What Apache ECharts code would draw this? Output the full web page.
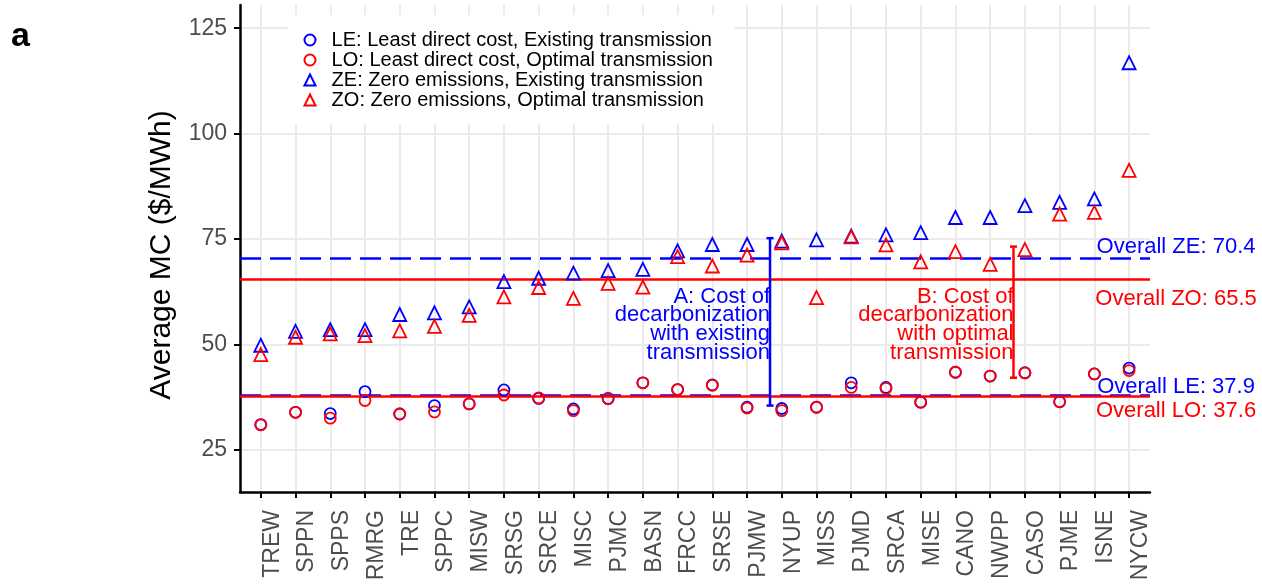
<!DOCTYPE html>
<html>
<head>
<meta charset="utf-8">
<script src="https://cdn.jsdelivr.net/npm/echarts@6/dist/echarts.min.js"></script>
<style>
html, body { margin: 0; padding: 0; background: #fff; }
#chart { width: 1262px; height: 588px; }
</style>
</head>
<body>
<div id="chart"></div>
<script>
// regions, left to right
const regions = ['TREW', 'SPPN', 'SPPS', 'RMRG', 'TRE', 'SPPC', 'MISW', 'SRSG', 'SRCE', 'MISC', 'PJMC', 'BASN', 'FRCC',
  'SRSE', 'PJMW', 'NYUP', 'MISS', 'PJMD', 'SRCA', 'MISE', 'CANO', 'NWPP', 'CASO', 'PJME', 'ISNE', 'NYCW']

// average marginal cost ($/MWh) per scenario
const leValues = [31.0, 33.9, 33.6, 38.8, 33.5, 35.5, 35.9, 39.2, 37.2, 34.7, 37.2, 40.9, 39.3,
  40.4, 35.1, 34.8, 35.1, 40.9, 39.8, 36.3, 43.4, 42.5, 43.3, 36.4, 43.0, 44.4]
const loValues = [30.9, 33.9, 32.5, 36.7, 33.5, 34.0, 35.9, 38.0, 37.3, 34.3, 37.1, 40.9, 39.3,
  40.3, 34.9, 34.3, 35.1, 39.8, 39.6, 36.3, 43.4, 42.5, 43.2, 36.4, 43.0, 43.8]
const zeValues = [49.8, 53.1, 53.5, 53.5, 57.1, 57.5, 58.9, 64.9, 65.7, 66.9, 67.5, 67.8, 72.2,
  73.7, 73.7, 74.5, 74.8, 75.7, 76.0, 76.5, 80.1, 80.1, 82.9, 83.7, 84.5, 116.8]
const zoValues = [47.6, 51.7, 52.5, 52.1, 53.2, 54.3, 56.9, 61.3, 63.5, 60.9, 64.5, 63.6, 70.8,
  68.6, 71.2, 74.1, 61.1, 75.5, 73.6, 69.6, 72.0, 69.0, 72.5, 80.9, 81.3, 91.3]

const seriesNames = [
  'LE: Least direct cost, Existing transmission',
  'LO: Least direct cost, Optimal transmission',
  'ZE: Zero emissions, Existing transmission',
  'ZO: Zero emissions, Optimal transmission'
]

// overall averages and their labels
const overallNames = ['Overall ZE: 70.4', 'Overall ZO: 65.5', 'Overall LE: 37.9', 'Overall LO: 37.6']
const overallValues = [70.4, 65.5, 37.9, 37.6]
const overallLabelY = [73.2, 60.9, 40.0, 34.2]
const overallLabelX = 26.35

// cost of decarbonization bars
const costNames = ['A: Cost of\ndecarbonization\nwith existing\ntransmission',
  'B: Cost of\ndecarbonization\nwith optimal\ntransmission']
const costX = [14.66, 21.67]
const costLow = [35.5, 42.1]
const costHigh = [75.2, 73.2]
const costLabelY = 54.7

const BLUE = '#0000ff'
const RED = '#ff0000'
const FONT = 'Liberation Sans, Arial, sans-serif'

const myChart = echarts.init(document.getElementById('chart'))

const pointSeries = (name, values, symbol, size, color) => ({
  name: name,
  type: 'scatter',
  xAxisIndex: 1,
  yAxisIndex: 1,
  symbol: symbol,
  symbolSize: size,
  itemStyle: { color: 'rgba(0,0,0,0)', borderColor: color, borderWidth: 1.8, opacity: 1 },
  z: 5,
  data: values
})

myChart.setOption({
  animation: false,
  textStyle: { fontFamily: FONT },
  title: {
    text: 'a',
    left: 6,
    top: 15,
    textStyle: { fontSize: 34, fontWeight: 'bold', color: '#000', fontFamily: FONT }
  },
  legend: {
    orient: 'vertical',
    left: 288,
    top: 15,
    padding: [15, 22, 14, 15.5],
    backgroundColor: '#fff',
    itemWidth: 11,
    itemHeight: 11,
    itemGap: 0,
    formatter: (name) => '  ' + name,
    textStyle: { fontSize: 20, color: '#000', lineHeight: 19.4, fontFamily: FONT },
    data: seriesNames
  },
  grid: [
    { left: 240, right: 112, top: 5, bottom: 96 },
    { left: 260.8, right: 132.9, top: 5, bottom: 96 },
    { left: 240, right: 112, top: 28.2, bottom: 138.2 },
    { left: 240, right: 112, top: 18, bottom: 96 }
  ],
  xAxis: [
    {
      gridIndex: 0, type: 'value', min: -0.6, max: 25.6,
      axisLine: { show: true, onZero: false, lineStyle: { color: '#000', width: 2.5 } },
      axisTick: { show: false }, axisLabel: { show: false }, splitLine: { show: false }
    },
    {
      gridIndex: 1, type: 'category', data: regions, boundaryGap: false,
      axisLine: { show: false },
      axisTick: { show: true, length: 6, lineStyle: { color: '#000', width: 2 } },
      axisLabel: { interval: 0, rotate: 90, fontSize: 23, color: '#4d4d4d', margin: 18, verticalAlign: 'top' },
      splitLine: { show: true, lineStyle: { color: '#ebebeb', width: 2 } }
    },
    { gridIndex: 2, type: 'value', show: false },
    { gridIndex: 3, type: 'value', show: false }
  ],
  yAxis: [
    {
      gridIndex: 0, type: 'value', min: 15, max: 130.5,
      axisLine: { show: true, onZero: false, lineStyle: { color: '#000', width: 2.5 } },
      axisTick: { show: false }, axisLabel: { show: false }, splitLine: { show: false }
    },
    { gridIndex: 1, type: 'value', min: 15, max: 130.5, show: false },
    {
      gridIndex: 2, type: 'value', min: 25, max: 125, interval: 25,
      axisLine: { show: false },
      axisTick: { show: true, length: 6, lineStyle: { color: '#000', width: 2 } },
      axisLabel: { fontSize: 23, color: '#4d4d4d', margin: 13 },
      splitLine: { show: true, lineStyle: { color: '#ebebeb', width: 2 } }
    },
    {
      gridIndex: 3, type: 'value',
      axisLine: { show: false }, axisTick: { show: false }, axisLabel: { show: false }, splitLine: { show: false },
      name: 'Average MC ($/MWh)', nameLocation: 'middle', nameGap: 63,
      nameTextStyle: { fontSize: 30, color: '#000' }
    }
  ],
  series: [
    pointSeries(seriesNames[0], leValues, 'circle', 11, BLUE),
    pointSeries(seriesNames[1], loValues, 'circle', 11, RED),
    pointSeries(seriesNames[2], zeValues, 'triangle', 13, BLUE),
    pointSeries(seriesNames[3], zoValues, 'triangle', 13, RED),
    {
      name: 'overall',
      type: 'scatter',
      xAxisIndex: 0,
      yAxisIndex: 0,
      data: [],
      markLine: {
        silent: true,
        symbol: 'none',
        label: { show: false },
        data: overallValues.map((v, i) => ({
          yAxis: v,
          lineStyle: {
            color: i % 2 === 0 ? BLUE : RED,
            width: 2.5,
            opacity: 1,
            type: i % 2 === 0 ? [21, 9] : 'solid'
          }
        }))
      }
    },
    {
      name: 'overall labels',
      type: 'scatter',
      xAxisIndex: 0,
      yAxisIndex: 0,
      clip: false,
      silent: true,
      symbolSize: 1,
      itemStyle: { color: 'rgba(0,0,0,0)', opacity: 1 },
      label: { show: true, position: 'inside', formatter: '{b}', fontSize: 22, align: 'center', verticalAlign: 'middle' },
      data: overallNames.map((n, i) => ({
        name: n,
        value: [overallLabelX, overallLabelY[i]],
        label: { color: i % 2 === 0 ? BLUE : RED }
      }))
    },
    {
      name: 'cost bars',
      type: 'custom',
      xAxisIndex: 0,
      yAxisIndex: 0,
      silent: true,
      z: 6,
      data: costX.map((x, i) => ({
        value: [x, costLow[i], costHigh[i]],
        itemStyle: { color: i === 0 ? BLUE : RED }
      })),
      renderItem: (params, api) => {
        const lo = api.coord([api.value(0), api.value(1)])
        const hi = api.coord([api.value(0), api.value(2)])
        const color = api.visual('color')
        const cap = 3.5
        const style = { stroke: color, lineWidth: 2.5 }
        return {
          type: 'group',
          children: [
            { type: 'line', shape: { x1: lo[0], y1: lo[1], x2: hi[0], y2: hi[1] }, style: style },
            { type: 'line', shape: { x1: lo[0] - cap, y1: lo[1], x2: lo[0] + cap, y2: lo[1] }, style: style },
            { type: 'line', shape: { x1: hi[0] - cap, y1: hi[1], x2: hi[0] + cap, y2: hi[1] }, style: style }
          ]
        }
      }
    },
    {
      name: 'cost labels',
      type: 'scatter',
      xAxisIndex: 0,
      yAxisIndex: 0,
      clip: false,
      silent: true,
      symbolSize: 1,
      itemStyle: { color: 'rgba(0,0,0,0)', opacity: 1 },
      label: {
        show: true, position: 'inside', formatter: '{b}', fontSize: 22, lineHeight: 18.7,
        align: 'right', verticalAlign: 'middle'
      },
      data: costNames.map((n, i) => ({
        name: n,
        value: [costX[i], costLabelY],
        label: { color: i === 0 ? BLUE : RED }
      }))
    }
  ]
})

window.addEventListener('resize', myChart.resize)
</script>
</body>
</html>
